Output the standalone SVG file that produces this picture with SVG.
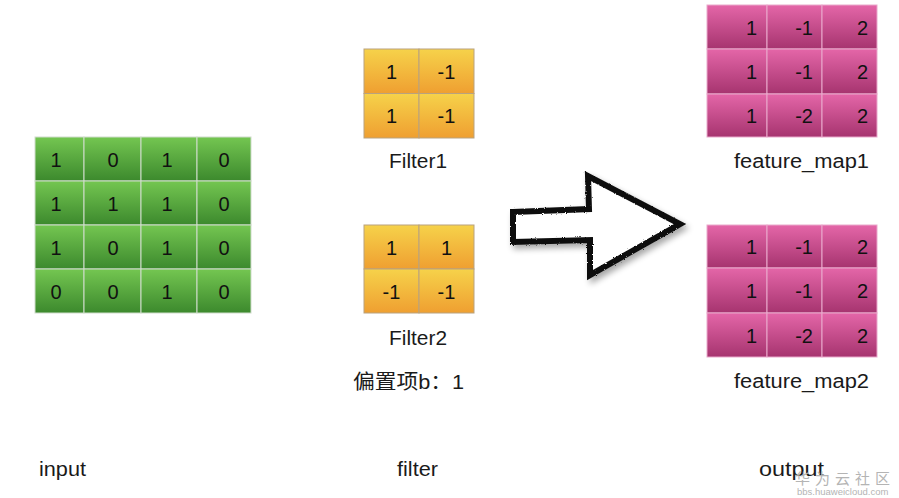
<svg xmlns="http://www.w3.org/2000/svg" width="899" height="498" viewBox="0 0 899 498">
<style>
text{font-family:"Liberation Sans","Noto Sans CJK SC",sans-serif;fill:#111}
.d{font-size:20px;text-anchor:middle}
.r{font-size:20px;text-anchor:end}
.lbl{font-size:20px;fill:#1a1a1a}
.g{fill:url(#gGreen);stroke:#cfdccb;stroke-width:1}
.o{fill:url(#gOrange);stroke:#b9a27e;stroke-width:1}
.p{fill:url(#gPink);stroke:#e9a9cc;stroke-width:1}
.wm{fill:#b4b4b4}
</style>
<defs>
<linearGradient id="gGreen" x1="0" y1="0" x2="0" y2="1"><stop offset="0" stop-color="#74c651"/><stop offset="1" stop-color="#3c892d"/></linearGradient>
<linearGradient id="gOrange" x1="0" y1="0" x2="0" y2="1"><stop offset="0" stop-color="#f6d24a"/><stop offset="1" stop-color="#ef9f31"/></linearGradient>
<linearGradient id="gPink" x1="0" y1="0" x2="0" y2="1"><stop offset="0" stop-color="#e466a8"/><stop offset="1" stop-color="#a6346f"/></linearGradient>
<filter id="shadow" x="-20%" y="-20%" width="150%" height="150%">
<feTurbulence type="fractalNoise" baseFrequency="0.9" numOctaves="2" result="n"/>
<feDisplacementMap in="SourceGraphic" in2="n" scale="2.5" result="rough"/>
<feGaussianBlur in="SourceAlpha" stdDeviation="3" result="b"/>
<feOffset in="b" dx="3" dy="4" result="ob"/>
<feComponentTransfer in="ob" result="sh"><feFuncA type="linear" slope="0.35"/></feComponentTransfer>
<feMerge><feMergeNode in="sh"/><feMergeNode in="rough"/></feMerge>
</filter>
</defs>
<rect width="899" height="498" fill="#ffffff"/>

<g id="input">
<rect class="g" x="35" y="137" width="49" height="44"/><rect class="g" x="84" y="137" width="57" height="44"/><rect class="g" x="141" y="137" width="56" height="44"/><rect class="g" x="197" y="137" width="54" height="44"/>
<rect class="g" x="35" y="181" width="49" height="44"/><rect class="g" x="84" y="181" width="57" height="44"/><rect class="g" x="141" y="181" width="56" height="44"/><rect class="g" x="197" y="181" width="54" height="44"/>
<rect class="g" x="35" y="225" width="49" height="44"/><rect class="g" x="84" y="225" width="57" height="44"/><rect class="g" x="141" y="225" width="56" height="44"/><rect class="g" x="197" y="225" width="54" height="44"/>
<rect class="g" x="35" y="269" width="49" height="44"/><rect class="g" x="84" y="269" width="57" height="44"/><rect class="g" x="141" y="269" width="56" height="44"/><rect class="g" x="197" y="269" width="54" height="44"/>
<text class="d" x="56" y="167">1</text><text class="d" x="113" y="167">0</text><text class="d" x="167" y="167">1</text><text class="d" x="224" y="167">0</text>
<text class="d" x="56" y="211">1</text><text class="d" x="113" y="211">1</text><text class="d" x="167" y="211">1</text><text class="d" x="224" y="211">0</text>
<text class="d" x="56" y="255">1</text><text class="d" x="113" y="255">0</text><text class="d" x="167" y="255">1</text><text class="d" x="224" y="255">0</text>
<text class="d" x="56" y="299">0</text><text class="d" x="113" y="299">0</text><text class="d" x="167" y="299">1</text><text class="d" x="224" y="299">0</text>
</g>

<g id="filter1">
<rect class="o" x="364" y="49" width="55" height="44.5"/><rect class="o" x="419" y="49" width="55" height="44.5"/>
<rect class="o" x="364" y="93.5" width="55" height="44.5"/><rect class="o" x="419" y="93.5" width="55" height="44.5"/>
<text class="d" x="391.5" y="79">1</text><text class="d" x="446.5" y="79">-1</text>
<text class="d" x="391.5" y="123">1</text><text class="d" x="446.5" y="123">-1</text>
<text class="lbl" x="389" y="168" textLength="58" lengthAdjust="spacingAndGlyphs">Filter1</text>
</g>

<g id="filter2">
<rect class="o" x="364" y="225" width="55" height="44"/><rect class="o" x="419" y="225" width="55" height="44"/>
<rect class="o" x="364" y="269" width="55" height="44"/><rect class="o" x="419" y="269" width="55" height="44"/>
<text class="d" x="391.5" y="255">1</text><text class="d" x="446.5" y="255">1</text>
<text class="d" x="391.5" y="299">-1</text><text class="d" x="446.5" y="299">-1</text>
<text class="lbl" x="389" y="345" textLength="58" lengthAdjust="spacingAndGlyphs">Filter2</text>
</g>

<g id="bias">
<text class="lbl" x="353" y="389" textLength="111" lengthAdjust="spacingAndGlyphs">偏置项b：1</text>
</g>

<g id="connectors">
<path d="M513,212 L589,209 L588,176 L680,224 L590,275 L590,240 L513,242 Z" fill="#ffffff" stroke="#111111" stroke-width="6" stroke-linejoin="miter" filter="url(#shadow)"/>
</g>

<g id="feature_map1">
<rect class="p" x="707" y="5" width="60" height="44"/><rect class="p" x="767" y="5" width="55" height="44"/><rect class="p" x="822" y="5" width="55" height="44"/>
<rect class="p" x="707" y="49" width="60" height="45"/><rect class="p" x="767" y="49" width="55" height="45"/><rect class="p" x="822" y="49" width="55" height="45"/>
<rect class="p" x="707" y="94" width="60" height="43"/><rect class="p" x="767" y="94" width="55" height="43"/><rect class="p" x="822" y="94" width="55" height="43"/>
<text class="r" x="757" y="35">1</text><text class="r" x="813" y="35">-1</text><text class="r" x="868" y="35">2</text>
<text class="r" x="757" y="79">1</text><text class="r" x="813" y="79">-1</text><text class="r" x="868" y="79">2</text>
<text class="r" x="757" y="123">1</text><text class="r" x="813" y="123">-2</text><text class="r" x="868" y="123">2</text>
<text class="lbl" x="734" y="168" textLength="135" lengthAdjust="spacingAndGlyphs">feature_map1</text>
</g>

<g id="feature_map2">
<rect class="p" x="707" y="225" width="60" height="43"/><rect class="p" x="767" y="225" width="55" height="43"/><rect class="p" x="822" y="225" width="55" height="43"/>
<rect class="p" x="707" y="268" width="60" height="45"/><rect class="p" x="767" y="268" width="55" height="45"/><rect class="p" x="822" y="268" width="55" height="45"/>
<rect class="p" x="707" y="313" width="60" height="44"/><rect class="p" x="767" y="313" width="55" height="44"/><rect class="p" x="822" y="313" width="55" height="44"/>
<text class="r" x="757" y="254">1</text><text class="r" x="813" y="254">-1</text><text class="r" x="868" y="254">2</text>
<text class="r" x="757" y="298">1</text><text class="r" x="813" y="298">-1</text><text class="r" x="868" y="298">2</text>
<text class="r" x="757" y="343">1</text><text class="r" x="813" y="343">-2</text><text class="r" x="868" y="343">2</text>
<text class="lbl" x="734" y="388" textLength="135" lengthAdjust="spacingAndGlyphs">feature_map2</text>
</g>

<g id="captions">
<text class="lbl" x="39" y="476" textLength="47" lengthAdjust="spacingAndGlyphs">input</text>
<text class="lbl" x="397" y="476" textLength="41" lengthAdjust="spacingAndGlyphs">filter</text>
<text class="lbl" x="759" y="476" textLength="65" lengthAdjust="spacingAndGlyphs">output</text>
</g>

<g id="watermark">
<text class="wm" x="795" y="484" style="font-size:15px;letter-spacing:5px">华为云社区</text>
<text class="wm" x="797" y="495" style="font-size:9.5px">bbs.huaweicloud.com</text>
</g>
</svg>
